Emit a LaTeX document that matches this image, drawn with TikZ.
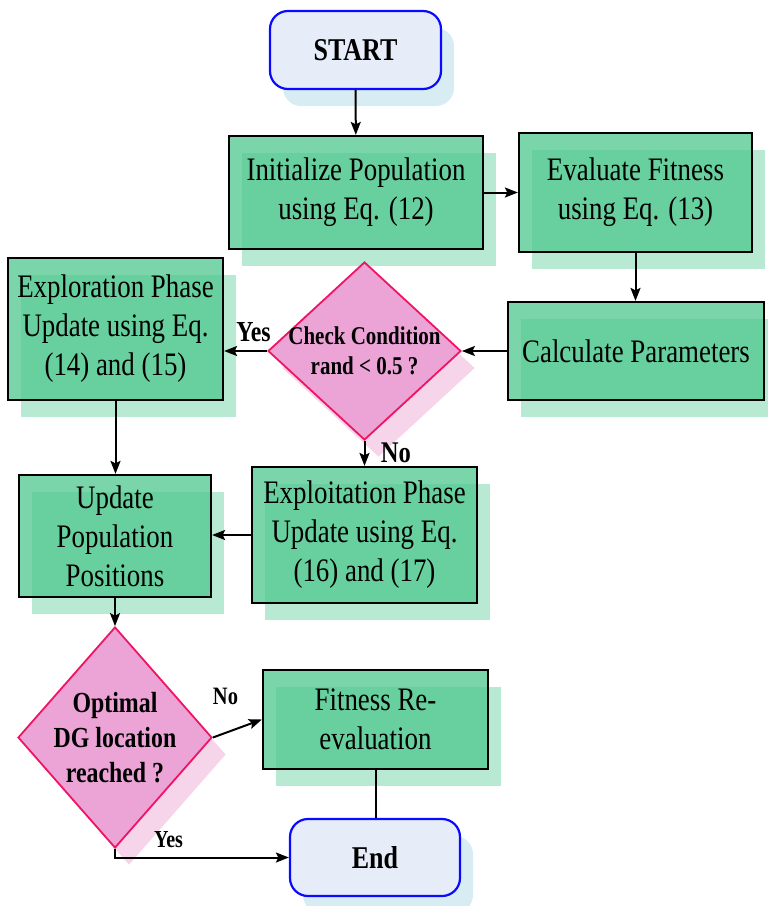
\documentclass[tikz,border=0pt]{standalone}
\usepackage{fontspec}
\setmainfont[FakeStretch=0.82]{Liberation Serif}
\usetikzlibrary{shapes.geometric,shadows,arrows.meta}
\definecolor{boxgreen}{RGB}{78,200,142}
\definecolor{greenshadow}{RGB}{184,233,210}
\definecolor{decfill}{RGB}{236,163,214}
\definecolor{decborder}{RGB}{240,20,100}
\definecolor{decshadow}{RGB}{246,212,234}
\definecolor{termfill}{RGB}{230,237,248}
\definecolor{termborder}{RGB}{10,10,255}
\definecolor{termshadow}{RGB}{216,237,243}
\newcommand\myBodyF{\fontsize{32.8pt}{39pt}\selectfont}
\newcommand\myTermF{\fontsize{31.7pt}{38pt}\selectfont\bfseries}
\newcommand\myDecAF{\fontsize{25.6pt}{30pt}\selectfont\bfseries}
\newcommand\myDecBF{\fontsize{29.1pt}{35pt}\selectfont\bfseries}
\begin{document}
\begin{tikzpicture}[x=1pt,y=-1pt,
  arr/.style={line width=2pt,-{Stealth[length=13pt,width=10pt,inset=2.5pt]}},
  plainline/.style={line width=2pt},
  proc/.style={draw=black, line width=2.2pt, fill=boxgreen, fill opacity=0.75, text opacity=1,
    inner sep=0pt, align=center, font=\myBodyF,
    drop shadow={shadow xshift=13pt,shadow yshift=-17pt,fill=greenshadow,opacity=1}},
  term/.style={draw=termborder, line width=2.2pt, fill=termfill, rounded corners=18pt,
    inner sep=0pt, align=center, font=\myTermF,
    drop shadow={shadow xshift=13pt,shadow yshift=-17pt,fill=termshadow,opacity=1}},
  dec/.style={diamond, draw=decborder, line width=1.8pt, fill=decfill, inner sep=0pt,
    drop shadow={shadow xshift=14pt,shadow yshift=-17pt,fill=decshadow,opacity=1}},
  dtextA/.style={align=center, font=\myDecAF, inner sep=0pt},
  dtextB/.style={align=center, font=\myDecBF, inner sep=0pt},
  lab/.style={inner sep=0pt}
]
\useasboundingbox (0,0) rectangle (768,906);

\node[term, minimum width=171pt, minimum height=78pt] (start) at (355.5,50) {START};
\node[proc, minimum width=254pt, minimum height=113pt] (init) at (356,192.5) {Initialize Population\\using Eq. (12)};
\node[proc, minimum width=233pt, minimum height=119pt] (eval) at (635.5,192.5) {Evaluate Fitness\\using Eq. (13)};
\node[proc, minimum width=256pt, minimum height=98pt] (calc) at (636,351) {Calculate Parameters};
\node[dec, minimum width=193pt, minimum height=178pt,
  label={[dtextA]center:{Check Condition\\rand < 0.5 ?}}] (d1) at (364.5,351) {};
\node[proc, minimum width=215pt, minimum height=142pt] (expl) at (115.5,329) {Exploration Phase\\Update using Eq.\\(14) and (15)};
\node[proc, minimum width=192pt, minimum height=122pt] (upd) at (115,536) {Update\\Population\\Positions};
\node[proc, minimum width=225pt, minimum height=136pt] (expt) at (364.5,535) {Exploitation Phase\\Update using Eq.\\(16) and (17)};
\node[dec, minimum width=194pt, minimum height=221pt,
  label={[dtextB]center:{Optimal\\DG location\\reached ?}}] (d2) at (115,737.5) {};
\node[proc, minimum width=225pt, minimum height=99pt] (fit) at (375.5,719.5) {Fitness Re-\\evaluation};
\node[term, minimum width=170pt, minimum height=77pt] (end) at (375,857.5) {End};

\draw[arr] (start) -- (init);
\draw[arr] (init) -- (eval);
\draw[arr] (eval.south) -- (eval.south |- calc.north);
\draw[arr] (calc) -- (d1);
\draw[arr] (d1.west) -- (d1.west -| expl.east);
\draw[arr] (d1.south) -- (expt.north);
\draw[arr] (expl.south) -- (expl.south |- upd.north);
\draw[arr] (expt.west) -- (expt.west -| upd.east);
\draw[arr] (upd) -- (d2);
\draw[arr] (d2.east) -- (fit.west);
\draw[plainline] (fit.south) -- (fit.south |- end.north);
\draw[arr] (d2.south) |- (end.west);

\node[lab, font=\fontsize{29pt}{34pt}\selectfont\bfseries] (yes1) at (253.5,332) {Yes};
\node[lab, font=\fontsize{30pt}{36pt}\selectfont\bfseries] (no1) at (396,453) {No};
\node[lab, font=\fontsize{25pt}{30pt}\selectfont\bfseries] (no2) at (225.5,696.5) {No};
\node[lab, font=\fontsize{24.4pt}{29pt}\selectfont\bfseries] (yes2) at (168.5,840) {Yes};
\end{tikzpicture}
\end{document}
